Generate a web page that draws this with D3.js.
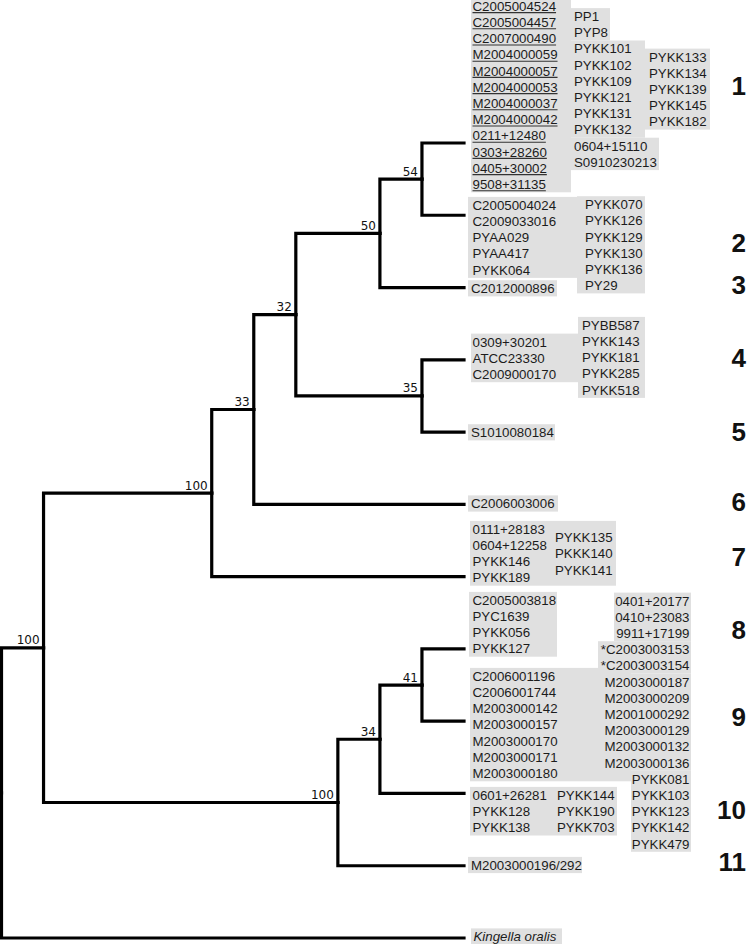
<!DOCTYPE html>
<html>
<head>
<meta charset="utf-8">
<script src="https://cdn.jsdelivr.net/npm/d3@7"></script>
<style>
  html, body { margin: 0; padding: 0; background: #ffffff; }
  svg { display: block; }
</style>
</head>
<body>
<svg id="chart" width="750" height="944"></svg>
<script>
// ---------------- DATA ----------------
// Tree topology (parent table), bootstrap support and cladogram rank
const nodeIds     = ["root","n1","ko","nA","nG","nB","c7","nC","c6","nD","nF","nE","c3","c1","c2","c4","c5","nH","c11","nI","c10","c8","c9"];
const nodeParents = [null,"root","root","n1","n1","nA","nA","nB","nB","nC","nC","nD","nD","nE","nE","nF","nF","nG","nG","nH","nH","nI","nI"];
const nodeSupport = ["","100","","100","100","33","","32","","50","35","54","","","","","","34","","41","","",""];
const nodeRank    = [0,1,11,5,8,6,11,7,11,9,10,10,11,11,11,11,11,9,11,10,11,11,11];

// Strain labels
const cluster1A = ["C2005004524","C2005004457","C2007000490","M2004000059","M2004000057","M2004000053","M2004000037","M2004000042","0211+12480","0303+28260","0405+30002","9508+31135"];
const cluster1B = ["PP1","PYP8","PYKK101","PYKK102","PYKK109","PYKK121","PYKK131","PYKK132","0604+15110","S0910230213"];
const cluster1C = ["PYKK133","PYKK134","PYKK139","PYKK145","PYKK182"];
const cluster2A = ["C2005004024","C2009033016","PYAA029","PYAA417","PYKK064"];
const cluster2B = ["PYKK070","PYKK126","PYKK129","PYKK130","PYKK136","PY29"];
const cluster3  = ["C2012000896"];
const cluster4A = ["0309+30201","ATCC23330","C2009000170"];
const cluster4B = ["PYBB587","PYKK143","PYKK181","PYKK285","PYKK518"];
const cluster5  = ["S1010080184"];
const cluster6  = ["C2006003006"];
const cluster7A = ["0111+28183","0604+12258","PYKK146","PYKK189"];
const cluster7B = ["PYKK135","PKKK140","PYKK141"];
const cluster8A = ["C2005003818","PYC1639","PYKK056","PYKK127"];
const cluster8B = ["0401+20177","0410+23083","9911+17199","*C2003003153","*C2003003154"];
const cluster9A = ["C2006001196","C2006001744","M2003000142","M2003000157","M2003000170","M2003000171","M2003000180"];
const cluster9B = ["M2003000187","M2003000209","M2001000292","M2003000129","M2003000132","M2003000136"];
const cluster10A = ["0601+26281","PYKK128","PYKK138"];
const cluster10B = ["PYKK144","PYKK190","PYKK703"];
const cluster10C = ["PYKK081","PYKK103","PYKK123","PYKK142","PYKK479"];
const cluster11 = ["M2003000196/292"];
const outgroup  = ["Kingella oralis"];

const clusterNumbers = ["1","2","3","4","5","6","7","8","9","10","11"];

// ---------------- LAYOUT ----------------
const W = 750, H = 944;
const ROW = 16.2;
const GREY = "#e0e0e0";
const TXT = "#1c1c1c";

const blocks = [
  {labels: cluster1A, x: 472.5, y0: 6,     underline: true, rects: [[471,571,0,11]]},
  {labels: cluster1B, x: 574,   y0: 16.2,  rects: [[571,610,0,1],[571,645,2,7],[571,659,8,9]]},
  {labels: cluster1C, x: 649,   y0: 56.7,  rects: [[645,710,0,4]]},
  {labels: cluster2A, x: 472.5, y0: 205,   rects: [[468,577,0,4]]},
  {labels: cluster2B, x: 585,   y0: 204.3, rects: [[577,645,0,5]]},
  {labels: cluster3,  x: 471,   y0: 288.3, rects: [[468,557,0,0]]},
  {labels: cluster4A, x: 472.5, y0: 341.7, rects: [[471,578,0,2]]},
  {labels: cluster4B, x: 582,   y0: 325,   rects: [[578,645,0,4]]},
  {labels: cluster5,  x: 471,   y0: 432.3, rects: [[468,555,0,0]]},
  {labels: cluster6,  x: 471,   y0: 503.5, rects: [[468,558,0,0]]},
  {labels: cluster7A, x: 472.5, y0: 529,   rects: [[470,616,0,3]]},
  {labels: cluster7B, x: 555,   y0: 537.3, rects: []},
  {labels: cluster8A, x: 472.5, y0: 600,   rects: [[469,557,0,3]]},
  {labels: cluster8B, x: 689.5, y0: 600.7, anchor: "end", rects: [[614,691,0,2],[598,691,3,4]]},
  {labels: cluster9A, x: 472.5, y0: 676,   rects: [[470,631,0,6]]},
  {labels: cluster9B, x: 689.5, y0: 681.7, anchor: "end", rects: [[600,691,0,5]]},
  {labels: cluster10A, x: 472.5, y0: 795,  rects: [[470,617,0,2]]},
  {labels: cluster10B, x: 557,   y0: 795,  rects: []},
  {labels: cluster10C, x: 689.5, y0: 778.9, anchor: "end", rects: [[631,691,0,4]]},
  {labels: cluster11, x: 471,   y0: 865,   rects: [[468,582,0,0]]},
  {labels: outgroup,  x: 473.5, y0: 936.5, italic: true, rects: [[471,562,0,0]]}
];

const numberY = [86, 243, 285, 358, 432, 502, 557, 630, 717, 810, 862];

// ---------------- TREE ----------------
const svg = d3.select("#chart");

const table = nodeIds.map((id, i) => ({id, parent: nodeParents[i], support: nodeSupport[i], rank: nodeRank[i]}));
const root = d3.stratify().id(d => d.id).parentId(d => d.parent)(table);

// 12 leaves, spaced one unit apart; cluster pads half a unit at each end
const cluster = d3.cluster().size([12, 1]).separation(() => 1);
cluster(root);

const xScale = d3.scaleLinear().domain([0, 11]).range([1.5, 464]);
const yScale = d3.scaleLinear().domain([0.5, 11.5]).range([143, 938]);

const px = d => xScale(d.data.rank);
const py = d => yScale(d.x);

// Grey label backgrounds first
const bgG = svg.append("g");
blocks.forEach(b => {
  b.rects.forEach(r => {
    const top = b.y0 + r[2] * ROW - ROW / 2;
    const bot = b.y0 + r[3] * ROW + ROW / 2;
    bgG.append("rect")
      .attr("x", r[0]).attr("y", top)
      .attr("width", r[1] - r[0]).attr("height", bot - top)
      .attr("fill", GREY);
  });
});

// Branches
svg.append("g")
  .selectAll("path")
  .data(root.links())
  .join("path")
  .attr("d", l => `M${px(l.source)},${py(l.source)}V${py(l.target)}H${px(l.target)}`)
  .attr("fill", "none")
  .attr("stroke", "#000")
  .attr("stroke-width", 3.2)
  .attr("stroke-linejoin", "miter")
  .attr("stroke-linecap", "square");

// Support values
svg.append("g")
  .selectAll("text")
  .data(root.descendants().filter(d => d.data.support !== ""))
  .join("text")
  .attr("x", d => px(d) - 4)
  .attr("y", d => py(d) - 3.5)
  .attr("text-anchor", "end")
  .attr("font-family", "DejaVu Sans, sans-serif")
  .attr("font-size", 12)
  .attr("fill", "#111")
  .text(d => d.data.support);

// Labels
const labG = svg.append("g")
  .attr("font-family", "Liberation Sans, Arial, Helvetica, sans-serif")
  .attr("font-size", 13.3)
  .attr("fill", TXT);

blocks.forEach(b => {
  b.labels.forEach((lab, i) => {
    const yc = b.y0 + i * ROW;
    const t = labG.append("text")
      .attr("x", b.x)
      .attr("y", yc + 4.8)
      .attr("text-anchor", b.anchor || "start")
      .attr("font-style", b.italic ? "italic" : "normal")
      .text(lab);
    if (b.underline) {
      const w = t.node().getComputedTextLength();
      labG.append("line")
        .attr("x1", b.x).attr("x2", b.x + w)
        .attr("y1", yc + 6.6).attr("y2", yc + 6.6)
        .attr("stroke", "#333").attr("stroke-width", 1.1);
    }
  });
});

// Cluster numbers
svg.append("g")
  .selectAll("text")
  .data(clusterNumbers)
  .join("text")
  .attr("x", 746)
  .attr("y", (d, i) => numberY[i] + 9.3)
  .attr("text-anchor", "end")
  .attr("font-family", "Liberation Sans, Arial, Helvetica, sans-serif")
  .attr("font-weight", "bold")
  .attr("font-size", 26)
  .attr("fill", "#111")
  .text(d => d);
</script>
</body>
</html>
